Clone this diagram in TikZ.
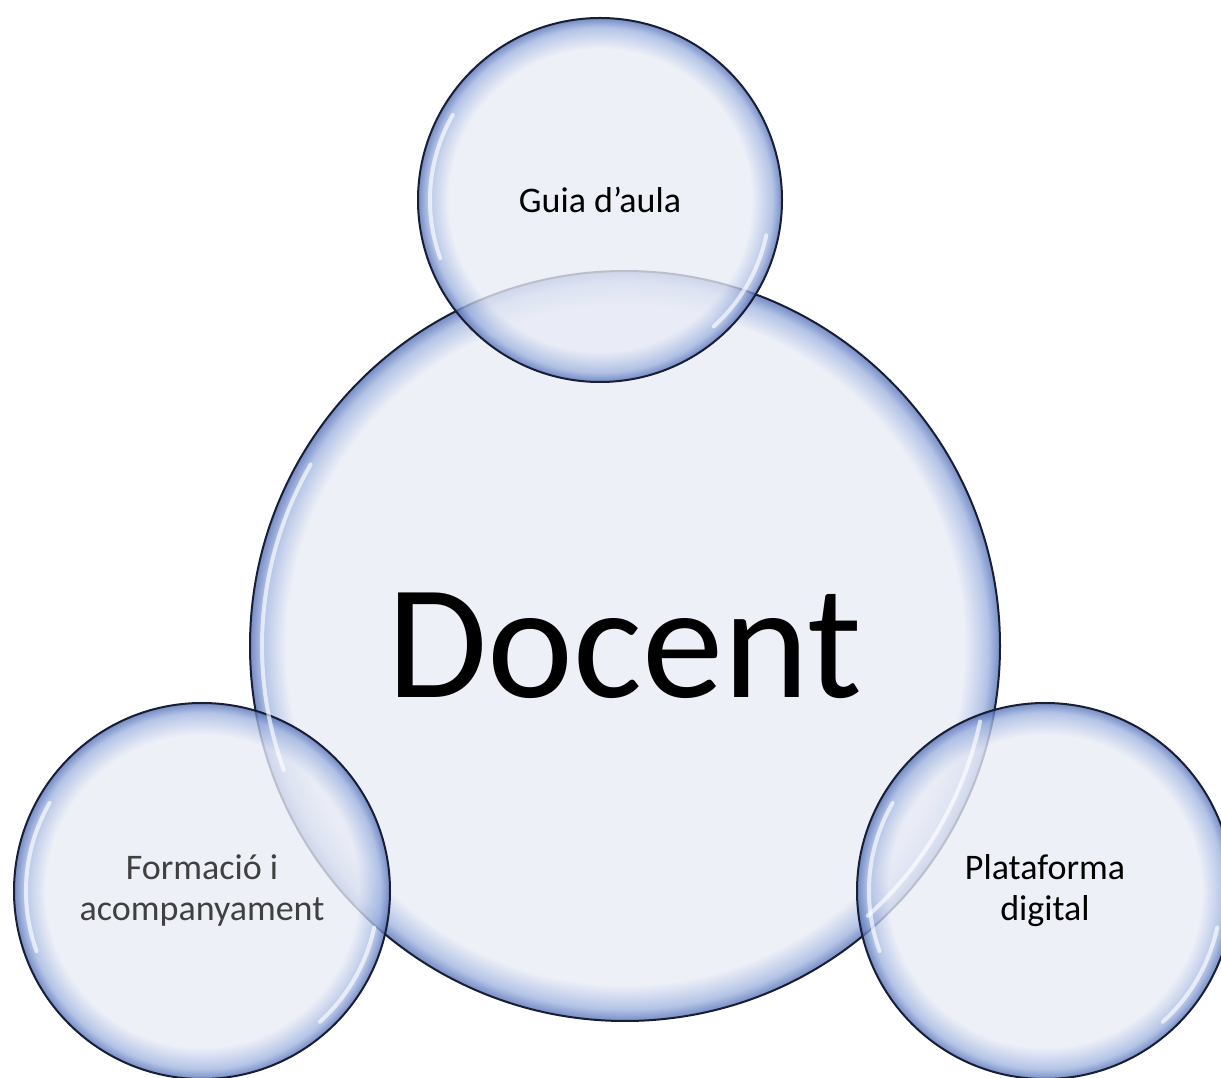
\documentclass[tikz,border=0pt]{standalone}
\usepackage{fontspec}
\setmainfont{Carlito}
\definecolor{bubblein}{RGB}{233,236,246}
\definecolor{bubblemid}{RGB}{160,180,224}
\definecolor{bubbleout}{RGB}{80,108,182}
\definecolor{bubbleedge}{RGB}{24,30,52}
\definecolor{labelgray}{RGB}{64,64,64}
\pgfdeclareradialshading{bubblebig}{\pgfpoint{0bp}{0bp}}{%
  color(0bp)=(bubblein); color(22.6bp)=(bubblein);
  color(24.2bp)=(bubblemid); color(25bp)=(bubbleout); color(30bp)=(bubbleout)}
\pgfdeclareradialshading{bubblesmall}{\pgfpoint{0bp}{0bp}}{%
  color(0bp)=(bubblein); color(20.8bp)=(bubblein);
  color(23.7bp)=(bubblemid); color(25bp)=(bubbleout); color(30bp)=(bubbleout)}
\tikzset{
  bubble/.style = {circle, draw=bubbleedge, line width=2pt, inner sep=0pt,
                   shade, shading=bubblesmall, fill opacity=0.78, text opacity=1,
                   minimum size=376pt, align=center,
                   font=\fontsize{36}{41}\selectfont},
  core/.style   = {bubble, shading=bubblebig, minimum size=750pt,
                   font=\fontsize{163}{170}\selectfont},
  shine/.style  = {white, line width=4pt, line cap=round, opacity=0.65}
}
\begin{document}
\begin{tikzpicture}[x=1pt,y=1pt]
  \fill[white] (0,0) rectangle (1221,1077);
  \useasboundingbox (0,0) rectangle (1221,1077);
  % central circle, then the three around it
  \node[core] (docent) at (625,431) {Docent};
  \node[bubble,minimum size=364pt] (guia) at (600,877) {Guia d’aula};
  \node[bubble,text=labelgray] (formacio) at (202,186) {Formació i\\acompanyament};
  \node[bubble] (plataforma) at (1045,186) {Plataforma\\digital};
  % glossy highlights
  \foreach \n/\r in {docent/375,guia/182,formacio/188,plataforma/188}{
    \draw[shine] ([shift={(150:\r-12)}]\n.center) arc[start angle=150, end angle=200, radius=\r-12];
    \draw[shine] ([shift={(-12:\r-12)}]\n.center) arc[start angle=-12, end angle=-48, radius=\r-12];
  }
\end{tikzpicture}
\end{document}
